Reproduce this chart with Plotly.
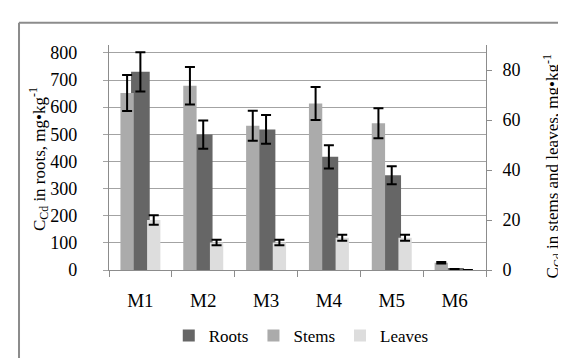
import plotly.graph_objects as go

categories = ["M1", "M2", "M3", "M4", "M5", "M6"]
roots = [730, 499, 518, 417, 349, 4]
roots_err = [72, 52, 53, 43, 33, 0]
stems = [70.8, 73.7, 57.7, 66.6, 58.7, 2.9]
stems_err = [7.2, 7.5, 6.0, 6.6, 6.0, 0.3]
leaves = [20.0, 11.0, 11.0, 12.9, 12.9, 0]
leaves_err = [1.9, 1.1, 1.1, 1.2, 1.2, 0]

FONT = "Liberation Serif"
GRID = "#a3a3a3"
AX = "#8c8c8c"

def f(size):
    return dict(family=FONT, size=size, color="black")

err = lambda a: dict(type="data", array=a, color="black", thickness=2, width=5)

fig = go.Figure()
fig.add_trace(go.Bar(name="Roots", x=categories, y=roots, yaxis="y",
                     marker=dict(color="#666666", line=dict(width=0)),
                     offset=-0.149, width=0.297, error_y=err(roots_err)))
fig.add_trace(go.Bar(name="Stems", x=categories, y=stems, yaxis="y2",
                     marker=dict(color="#ababab", line=dict(width=0)),
                     offset=-0.318, width=0.212, error_y=err(stems_err)))
fig.add_trace(go.Bar(name="Leaves", x=categories, y=leaves, yaxis="y2",
                     marker=dict(color="#dddddd", line=dict(width=0)),
                     offset=0.106, width=0.212, error_y=err(leaves_err)))

fig.update_layout(
    width=566, height=358,
    margin=dict(l=101, r=88, t=37, b=89),
    paper_bgcolor="white", plot_bgcolor="white",
    barmode="overlay",
    font=f(16),
    xaxis=dict(type="category", tickson="boundaries", ticks="outside", ticklen=6,
               tickcolor=AX, showline=True, linecolor=AX, linewidth=1,
               showgrid=False, tickfont=f(19), ticklabelstandoff=13),
    yaxis=dict(range=[0, 829], dtick=100, showgrid=True, gridcolor=GRID, gridwidth=1,
               ticks="outside", ticklen=5, tickcolor=GRID, showline=True,
               linecolor=AX, linewidth=1, zeroline=False, tickfont=f(18),
               ticksuffix="\u2009\u2009", ticklabelstandoff=15),
    yaxis2=dict(range=[0, 90], dtick=20, overlaying="y", side="right", showgrid=False,
                ticks="outside", ticklen=5, tickcolor=AX, showline=True,
                linecolor=AX, linewidth=1, zeroline=False, tickfont=f(18),
                ticklabelstandoff=7),
    legend=dict(orientation="h", x=0.51, y=-0.293, xanchor="center", yanchor="middle",
                font=f(17), itemwidth=30, traceorder="normal"),
    showlegend=True,
)

fig.add_annotation(text="C<sub>Cd</sub> in roots, mg•kg<sup>-1</sup>", textangle=-90,
                   xref="paper", yref="paper", x=-0.185, y=0.494,
                   xanchor="center", yanchor="middle", showarrow=False,
                   font=f(17))
fig.add_annotation(text="C<sub>Cd</sub> in stems and leaves, mg•kg<sup>-1</sup>", textangle=-90,
                   xref="paper", yref="paper", x=1.176, y=0.462,
                   xanchor="center", yanchor="middle", showarrow=False,
                   font=f(17))

# outer chart-area border (cropped on right and bottom)
fig.add_shape(type="line", xref="paper", yref="paper", x0=-0.2387, x1=1.5, y0=1.099, y1=1.099,
              line=dict(color="#8c8c8c", width=2))
fig.add_shape(type="line", xref="paper", yref="paper", x0=-0.2387, x1=-0.2387, y0=1.099, y1=-0.5,
              line=dict(color="#8c8c8c", width=2))

fig.write_html("out.html")
